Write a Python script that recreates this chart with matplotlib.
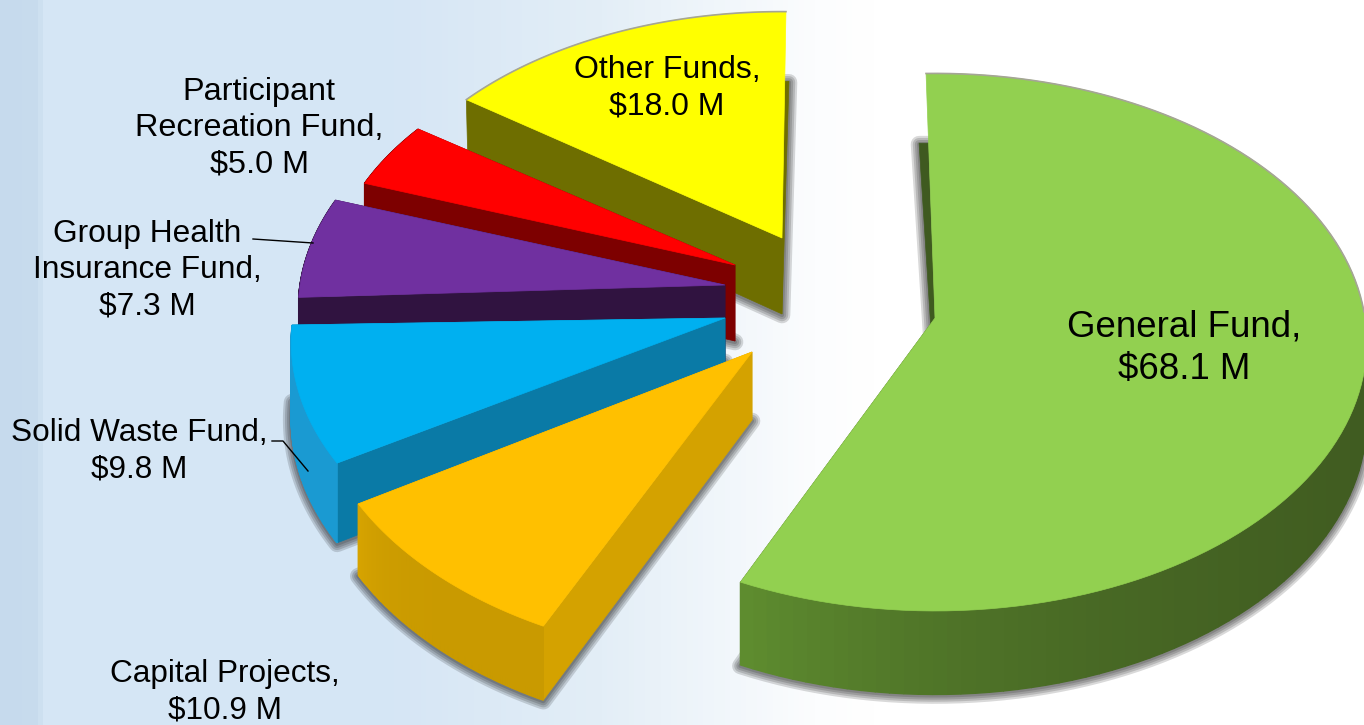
import numpy as np
import matplotlib
matplotlib.use("Agg")
import matplotlib.pyplot as plt
from matplotlib.colors import LinearSegmentedColormap, to_rgb

# Fund balances in $ millions, in pie order (clockwise from the top)
funds = ["General Fund", "Capital Projects", "Solid Waste Fund",
         "Group Health Insurance Fund", "Participant Recreation Fund", "Other Funds"]
values = [68.1, 10.9, 9.8, 7.3, 5.0, 18.0]

top_colors = ["#92d050", "#ffc000", "#00b0f0", "#7030a0", "#ff0000", "#ffff00"]
wall_colors = ["#3f5a20", "#d4a200", "#0a7aa6", "#301340", "#7d0000", "#6e6e00"]
rim_colors = [("#3f5a20", "#5e8c2f"), ("#c99a00", "#d6a300"), ("#1a9ad2", "#1a9ad2"),
              ("#301340", "#301340"), ("#7d0000", "#7d0000"), ("#6e6e00", "#6e6e00")]

# Where each exploded slice's tip sits, how big it is drawn and how far it is turned
tip_x = [935, 752, 725, 725, 735, 782]
tip_y = [318, 352, 318, 285, 265, 238]
radius = [430, 452, 432, 425, 405, 398]
stretch = [1.0, 0.97, 1.0, 1.0, 1.0, 1.035]
turn = [1.1, 2.5, 2.5, 1.3, 1.5, 3.0]
lean = [-7, 0, 0, 0, 0, 3]
depth = [76, 68, 76, 76, 76, 76]

start_angle = -2.4
squash = 0.62
persp = 0.09

plt.rcParams["font.family"] = ["Liberation Sans", "DejaVu Sans"]

fig = plt.figure(figsize=(13.64, 7.25), dpi=100)
ax = fig.add_axes([0, 0, 1, 1])
ax.set_xlim(0, 1364)
ax.set_ylim(725, 0)
ax.axis("off")

# Backdrop: darker strip on the left, fading to white
bg = LinearSegmentedColormap.from_list("bg", [
    (0.0, "#c6daed"), (0.025, "#c8dcee"), (0.031, "#d5e6f5"), (0.29, "#d6e6f5"),
    (0.44, "#e3eef7"), (0.60, "#fcfdfe"), (0.64, "#ffffff"), (1.0, "#ffffff")])
ax.imshow(np.linspace(0, 1, 1364)[None, :], cmap=bg, extent=(0, 1364, 725, 0),
          aspect="auto", zorder=0)


def project(i, theta):
    # top face point, theta in degrees clockwise from 12 o'clock
    t = np.radians(theta)
    s = 1 / (1 + persp * np.cos(t))
    x = tip_x[i] + radius[i] * stretch[i] * np.sin(t) * s
    y = tip_y[i] - radius[i] * squash * np.cos(t) * s
    return x, y, s


sweeps = np.array(values) / sum(values) * 360
edges = start_angle + np.concatenate([[0], np.cumsum(sweeps)])

# Back slices first so the nearer ones paint over them
order = [0, 5, 4, 3, 2, 1]
z = 1
for i in order:
    th = np.linspace(edges[i], edges[i + 1], 120) + turn[i]
    rx, ry, rs = project(i, th)
    top_x = np.concatenate([[tip_x[i]], rx])
    top_y = np.concatenate([[tip_y[i]], ry])
    back = np.cos(np.radians(th)) > 0
    bx = rx + lean[i] * np.maximum(np.cos(np.radians(th)), 0)
    by = ry + depth[i] * rs
    bot_x = np.concatenate([[tip_x[i]], bx])
    bot_y = np.concatenate([[tip_y[i] + depth[i]], by])

    # soft shadow round the bottom face
    for lw in [12, 9, 6, 3]:
        ax.fill(bot_x, bot_y + 1, facecolor="none", edgecolor="k", alpha=0.15,
                lw=lw, joinstyle="round", zorder=z)
    z += 1

    # straight side walls
    for k in [0, -1]:
        if np.cos(np.radians(th[k])) > 0.95:
            # wall on the far edge only shows below the rim
            f = (tip_y[i] - by[k]) / (tip_y[i] - ry[k])
            edge_x = tip_x[i] + (rx[k] - tip_x[i]) * f
            ax.fill([tip_x[i], edge_x, bx[k], tip_x[i]],
                    [tip_y[i], by[k], by[k], tip_y[i] + depth[i]],
                    color=wall_colors[i], lw=0.5, zorder=z)
        else:
            ax.fill([tip_x[i], rx[k], bx[k], tip_x[i]],
                    [tip_y[i], ry[k], by[k], tip_y[i] + depth[i]],
                    color=wall_colors[i], lw=0.5, zorder=z)
    z += 1

    # curved outer wall, shaded along its length
    dark, lit = np.array(to_rgb(rim_colors[i][0])), np.array(to_rgb(rim_colors[i][1]))
    for k in range(len(th) - 1):
        if back[k] and lean[i] != 0:
            continue
        f = (k / (len(th) - 2)) ** 5
        c = dark + (lit - dark) * f
        ax.fill([rx[k], rx[k + 1], bx[k + 1], bx[k]],
                [ry[k], ry[k + 1], by[k + 1], by[k]],
                color=c, lw=1.0, zorder=z)
    z += 1

    ax.fill(top_x, top_y, color=top_colors[i], lw=0.5, zorder=z)
    if i in (0, 5):
        ax.plot(rx[back], ry[back], color="#a5a596", lw=1.2, zorder=z)
    z += 1

txt = dict(ha="center", va="center", color="black", zorder=z + 1, linespacing=1.27)
ax.text(1184, 348, "General Fund,\n$68.1 M", fontsize=26.4, **txt)
ax.text(667, 88, "Other Funds,\n$18.0 M", fontsize=23, **txt)
ax.text(259, 128, "Participant\nRecreation Fund,\n$5.0 M", fontsize=23.3, **txt)
ax.text(147, 270, "Group Health\nInsurance Fund,\n$7.3 M", fontsize=22.8, **txt)
ax.text(139, 451, "Solid Waste Fund,\n$9.8 M", fontsize=22.7, **txt)
ax.text(225, 692, "Capital Projects,\n$10.9 M", fontsize=22.7, **txt)

# leader lines
ax.plot([253, 313], [239, 243], color="black", lw=1, zorder=z + 1)
ax.plot([272, 283, 308], [441, 441, 471], color="black", lw=1, zorder=z + 1)

fig.savefig("out.png", dpi=100)
